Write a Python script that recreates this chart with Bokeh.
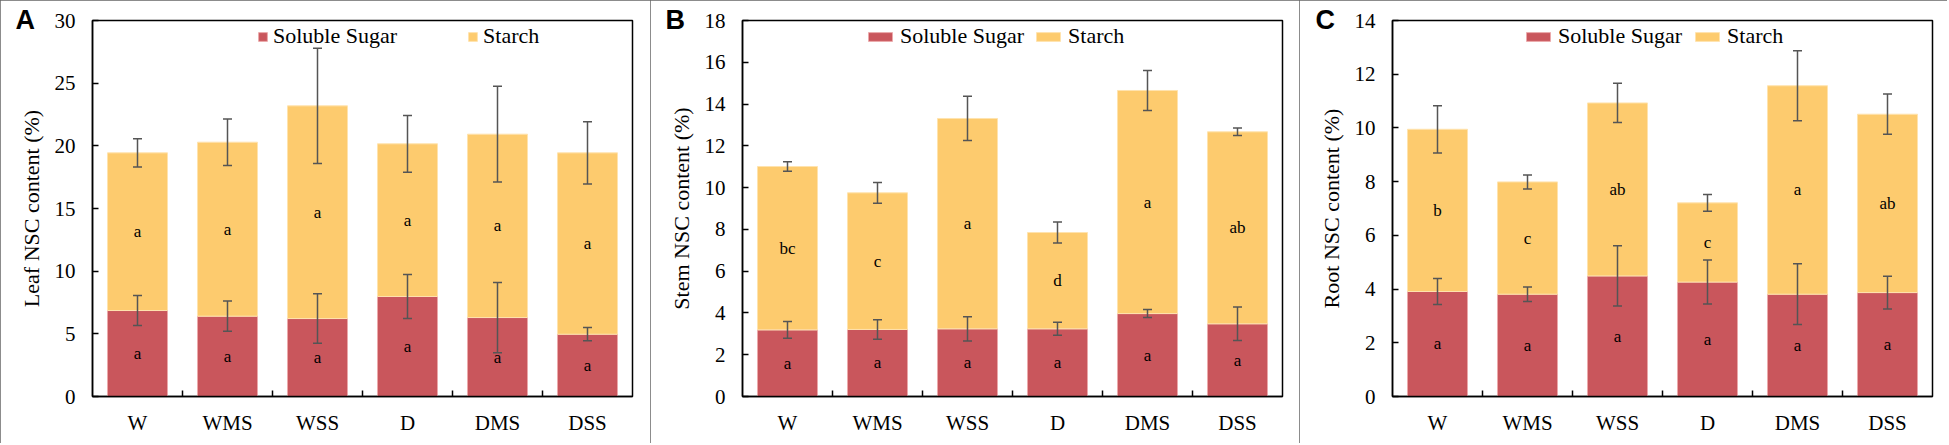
from bokeh.plotting import figure
from bokeh.layouts import row
from bokeh.models import (ColumnDataSource, Whisker, TeeHead, Legend, LegendItem,
                          FixedTicker, Range1d)
from bokeh.embed import file_html
from bokeh.resources import INLINE
from bokeh.core.properties import value

# treatments
groups = ["W", "WMS", "WSS", "D", "DMS", "DSS"]

# leaf NSC (%)
leaf_sugar = [6.86, 6.41, 6.22, 7.98, 6.30, 4.97]
leaf_starch = [12.58, 13.88, 16.97, 12.18, 14.63, 14.47]
leaf_sugar_err = [1.20, 1.21, 1.97, 1.75, 2.80, 0.53]
leaf_total_err = [1.12, 1.86, 4.59, 2.27, 3.82, 2.49]
leaf_sugar_letters = ["a", "a", "a", "a", "a", "a"]
leaf_starch_letters = ["a", "a", "a", "a", "a", "a"]

# stem NSC (%)
stem_sugar = [3.19, 3.21, 3.24, 3.24, 3.97, 3.48]
stem_starch = [7.82, 6.54, 10.07, 4.61, 10.68, 9.19]
stem_sugar_err = [0.40, 0.47, 0.58, 0.31, 0.19, 0.80]
stem_total_err = [0.23, 0.50, 1.06, 0.50, 0.96, 0.18]
stem_sugar_letters = ["a", "a", "a", "a", "a", "a"]
stem_starch_letters = ["bc", "c", "a", "d", "a", "ab"]

# root NSC (%)
root_sugar = [3.91, 3.81, 4.49, 4.26, 3.81, 3.87]
root_starch = [6.04, 4.18, 6.44, 2.95, 7.76, 6.64]
root_sugar_err = [0.48, 0.27, 1.12, 0.82, 1.13, 0.61]
root_total_err = [0.88, 0.26, 0.73, 0.31, 1.30, 0.75]
root_sugar_letters = ["a", "a", "a", "a", "a", "a"]
root_starch_letters = ["b", "c", "ab", "c", "a", "ab"]

SUGAR = "#C9565C"
STARCH = "#FDCB6E"
SERIF = "'Liberation Serif', 'Times New Roman', serif"
ERR = "#555555"


def make_panel(tag, ylabel, sugar, starch, sugar_err, total_err, sugar_letters,
               starch_letters, ymax, ystep, left, right, leg_x, glyph_w, spacing):
    x = [i + 0.5 for i in range(len(groups))]
    total = [a + b for a, b in zip(sugar, starch)]
    src = ColumnDataSource(dict(
        x=x, sugar=sugar, total=total,
        s_lo=[a - e for a, e in zip(sugar, sugar_err)],
        s_hi=[a + e for a, e in zip(sugar, sugar_err)],
        t_lo=[a - e for a, e in zip(total, total_err)],
        t_hi=[a + e for a, e in zip(total, total_err)],
        s_mid=[a / 2 for a in sugar],
        t_mid=[(a + b) / 2 for a, b in zip(sugar, total)],
        s_lab=sugar_letters, t_lab=starch_letters,
    ))

    p = figure(frame_width=540, frame_height=376, x_range=Range1d(0, len(groups)),
               y_range=Range1d(0, ymax), output_backend="svg", toolbar_location=None,
               min_border_left=left, min_border_right=right, min_border_top=20,
               min_border_bottom=47)
    p.grid.visible = False
    p.outline_line_color = "black"
    p.outline_line_width = 1.5
    p.styles = {"outline": "1.5px solid #666666", "outline-offset": "-1px"}

    # panel tag as the title, pulled left of the y tick labels
    p.title.text = tag
    p.title.align = "left"
    p.title.offset = -77
    p.title.standoff = -29
    p.title.text_font = "'Liberation Sans', Arial, sans-serif"
    p.title.text_font_style = "bold"
    p.title.text_font_size = "27px"
    p.title.text_color = "black"

    r1 = p.vbar(x="x", width=0.667, bottom=0, top="sugar", source=src,
                fill_color=SUGAR, line_color="#EBA9AB", line_width=1)
    r2 = p.vbar(x="x", width=0.667, bottom="sugar", top="total", source=src,
                fill_color=STARCH, line_color="#FFE3AE", line_width=1)

    for lo, hi in (("s_lo", "s_hi"), ("t_lo", "t_hi")):
        w = Whisker(source=src, base="x", lower=lo, upper=hi, line_color=ERR,
                    line_width=1.5, level="overlay",
                    upper_head=TeeHead(size=9, line_color=ERR, line_width=1.5),
                    lower_head=TeeHead(size=9, line_color=ERR, line_width=1.5))
        p.add_layout(w)

    for col, ycol in (("s_lab", "s_mid"), ("t_lab", "t_mid")):
        p.text(x="x", y=ycol, text=col, source=src, text_align="center",
               text_baseline="middle", text_font=value(SERIF),
               text_font_size="17px", text_color="black")

    # axes
    p.yaxis.ticker = list(range(0, ymax + 1, ystep))
    p.yaxis.major_tick_in = 6
    p.yaxis.major_tick_out = 0
    p.yaxis.minor_tick_line_color = None
    p.yaxis.axis_label = ylabel
    p.xaxis.ticker = FixedTicker(ticks=x, minor_ticks=list(range(1, len(groups))))
    p.xaxis.major_label_overrides = {xi: g for xi, g in zip(x, groups)}
    p.xaxis.major_tick_line_color = None
    p.xaxis.minor_tick_in = 6
    p.xaxis.minor_tick_out = 0
    p.xaxis.minor_tick_line_color = "black"
    p.xaxis.minor_tick_line_width = 1.5
    p.xaxis.major_label_standoff = 8
    for ax in (p.xaxis, p.yaxis):
        ax.axis_line_color = "black"
        ax.axis_line_width = 1.5
        ax.major_tick_line_width = 1.5
        ax.major_label_text_font = SERIF
        ax.major_label_text_font_size = "21px"
        ax.major_label_text_color = "black"
        ax.axis_label_text_font = SERIF
        ax.axis_label_text_font_size = "22px"
        ax.axis_label_text_font_style = "normal"
        ax.axis_label_text_color = "black"
    p.yaxis.major_label_standoff = 17
    p.yaxis.axis_label_standoff = 8

    legend = Legend(items=[LegendItem(label="Soluble Sugar", renderers=[r1]),
                           LegendItem(label="Starch", renderers=[r2])],
                    orientation="horizontal", location=(leg_x, 347),
                    glyph_width=glyph_w, glyph_height=11, label_height=24,
                    spacing=spacing, label_standoff=5, padding=0, margin=0,
                    border_line_color=None, background_fill_alpha=0,
                    label_text_font=SERIF, label_text_font_size="22px",
                    label_text_color="black")
    p.add_layout(legend)
    return p


pa = make_panel("A", "Leaf NSC content (%)", leaf_sugar, leaf_starch,
                leaf_sugar_err, leaf_total_err, leaf_sugar_letters,
                leaf_starch_letters, 30, 5, 92, 18, 165, 11, 70)
pb = make_panel("B", "Stem NSC content (%)", stem_sugar, stem_starch,
                stem_sugar_err, stem_total_err, stem_sugar_letters,
                stem_starch_letters, 18, 2, 92, 17, 123, 30, 9)
pc = make_panel("C", "Root NSC content (%)", root_sugar, root_starch,
                root_sugar_err, root_total_err, root_sugar_letters,
                root_starch_letters, 14, 2, 93, 15, 131, 30, 10)

layout = row(pa, pb, pc, spacing=0)
open("out.html", "w").write(file_html(layout, INLINE))
